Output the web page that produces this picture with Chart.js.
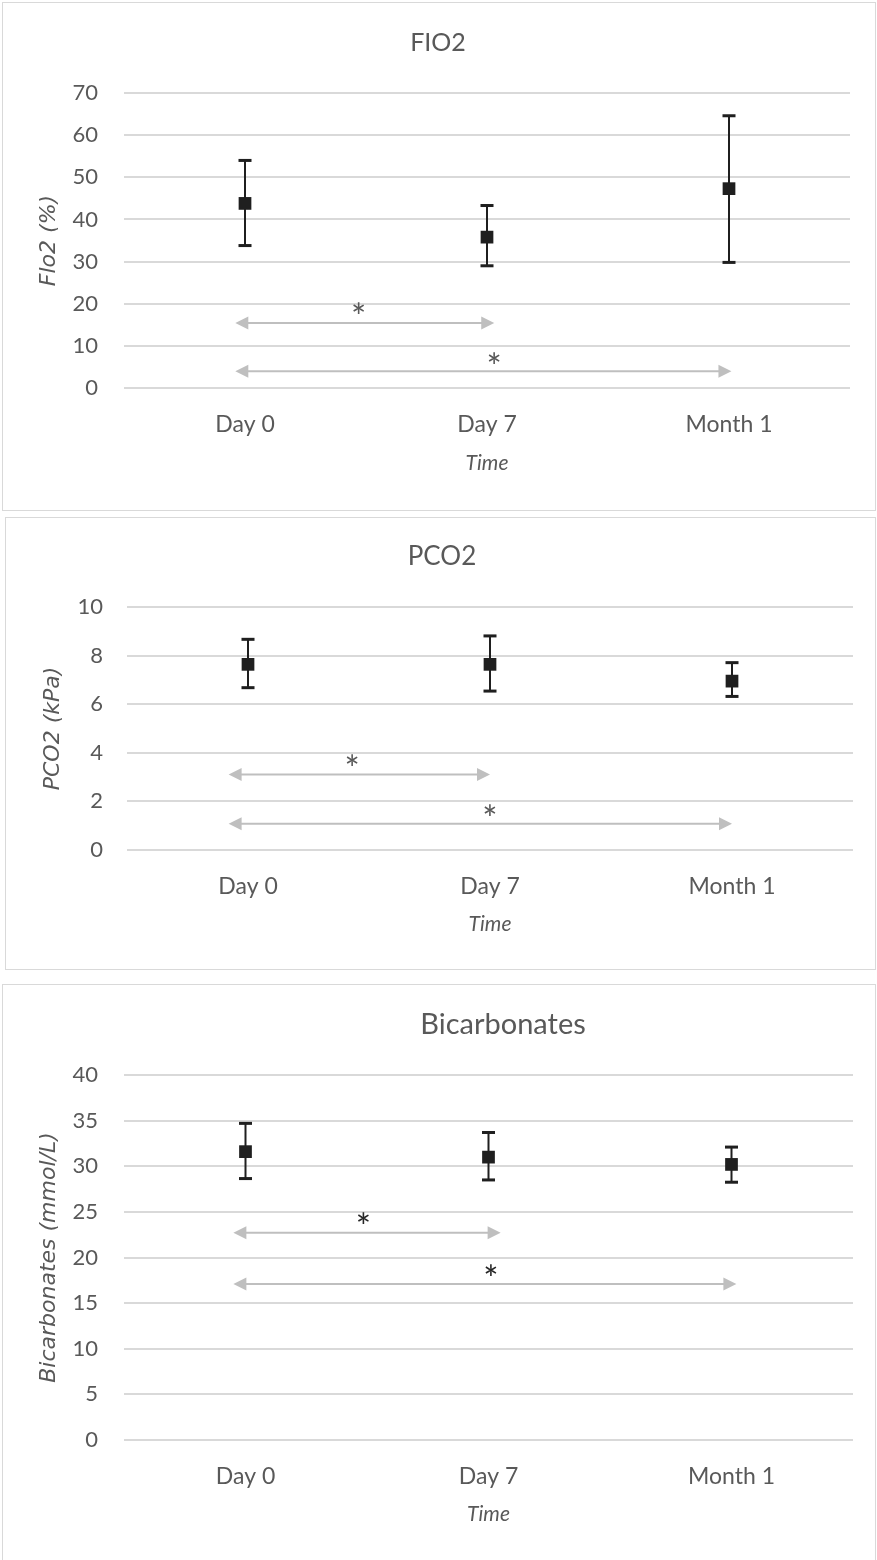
<!DOCTYPE html>
<html>
<head>
<meta charset="utf-8">
<title>FIO2, PCO2, Bicarbonates</title>
<script src="https://cdn.jsdelivr.net/npm/chart.js@4.4.1/dist/chart.umd.min.js"></script>
<style>
  html, body { margin: 0; padding: 0; background: #fff; overflow: hidden; }
  body { position: relative; width: 877px; height: 1560px; }
  .panel { position: absolute; border: 1px solid #d9d9d9; background: #fff; }
  .panel canvas { display: block; }
  #p1 { left: 2px; top: 2px; }
  #p2 { left: 5px; top: 517px; }
  #p3 { left: 2px; top: 984px; }
</style>
</head>
<body>
<div class="panel" id="p1"><canvas id="fio2Chart" width="872" height="507"></canvas></div>
<div class="panel" id="p2"><canvas id="pco2Chart" width="869" height="451"></canvas></div>
<div class="panel" id="p3"><canvas id="bicarbChart" width="872" height="588"></canvas></div>
<script>
const timeLabels = ['Day 0', 'Day 7', 'Month 1'];

// FIO2 (%) - mean and error bar ends
const fio2Mean = [43.8, 35.8, 47.3];
const fio2Upper = [54.0, 43.3, 64.6];
const fio2Lower = [33.8, 29.0, 29.8];
const fio2Ticks = [0, 10, 20, 30, 40, 50, 60, 70];
// significance arrows (x in category units, y in axis units)
const fio2ArrowFrom = [-0.04, -0.04];
const fio2ArrowTo = [1.03, 2.01];
const fio2ArrowY = [15.4, 3.96];
const fio2StarX = [0.47, 1.03];
const fio2StarY = [18.9, 7.05];

// PCO2 (kPa)
const pco2Mean = [7.64, 7.64, 6.95];
const pco2Upper = [8.67, 8.81, 7.71];
const pco2Lower = [6.68, 6.54, 6.32];
const pco2Ticks = [0, 2, 4, 6, 8, 10];
const pco2ArrowFrom = [-0.08, -0.08];
const pco2ArrowTo = [1.0, 2.0];
const pco2ArrowY = [3.11, 1.08];
const pco2StarX = [0.43, 1.0];
const pco2StarY = [3.71, 1.63];

// Bicarbonates (mmol/L)
const bicarbMean = [31.6, 31.0, 30.2];
const bicarbUpper = [34.7, 33.7, 32.1];
const bicarbLower = [28.65, 28.5, 28.25];
const bicarbTicks = [0, 5, 10, 15, 20, 25, 30, 35, 40];
const bicarbArrowFrom = [-0.05, -0.05];
const bicarbArrowTo = [1.05, 2.02];
const bicarbArrowY = [22.7, 17.1];
const bicarbStarX = [0.485, 1.01];
const bicarbStarY = [24.3, 18.6];

const GREY_TEXT = '#595959';
const MARK = '#1f1f1f';

// chart title drawn by hand: the Excel title is not centred on the canvas
function titlePlugin(text, size, cx, cy) {
  return {
    id: 'panelTitle',
    beforeDraw(chart) {
      const ctx = chart.ctx;
      ctx.save();
      ctx.font = size + 'px Lato';
      ctx.fillStyle = GREY_TEXT;
      ctx.textAlign = 'center';
      ctx.textBaseline = 'middle';
      ctx.fillText(text, cx, cy);
      ctx.restore();
    }
  };
}

// whiskers + caps, drawn under the square markers
function errorBarPlugin(upper, lower) {
  return {
    id: 'errorBars',
    beforeDatasetsDraw(chart) {
      const { ctx, scales: { x, y } } = chart;
      ctx.save();
      ctx.strokeStyle = MARK;
      ctx.fillStyle = MARK;
      ctx.lineWidth = 2;
      upper.forEach((hi, i) => {
        const px = x.getPixelForValue(i);
        const top = y.getPixelForValue(hi);
        const bot = y.getPixelForValue(lower[i]);
        ctx.beginPath();
        ctx.moveTo(px, top);
        ctx.lineTo(px, bot);
        ctx.stroke();
        ctx.fillRect(px - 6.5, top - 1.5, 13, 3);
        ctx.fillRect(px - 6.5, bot - 1.5, 13, 3);
      });
      ctx.restore();
    }
  };
}

// double-headed grey arrows with an asterisk above
function significancePlugin(from, to, ys, starX, starY, starColor) {
  return {
    id: 'significance',
    afterDatasetsDraw(chart) {
      const { ctx, scales: { x, y } } = chart;
      ctx.save();
      ctx.strokeStyle = '#bfbfbf';
      ctx.fillStyle = '#bfbfbf';
      ctx.lineWidth = 2;
      const head = 13, half = 6.5;
      ys.forEach((v, i) => {
        const x1 = x.getPixelForValue(from[i]);
        const x2 = x.getPixelForValue(to[i]);
        const py = y.getPixelForValue(v);
        ctx.beginPath();
        ctx.moveTo(x1 + head - 1, py);
        ctx.lineTo(x2 - head + 1, py);
        ctx.stroke();
        ctx.beginPath();
        ctx.moveTo(x1, py);
        ctx.lineTo(x1 + head, py - half);
        ctx.lineTo(x1 + head, py + half);
        ctx.closePath();
        ctx.fill();
        ctx.beginPath();
        ctx.moveTo(x2, py);
        ctx.lineTo(x2 - head, py - half);
        ctx.lineTo(x2 - head, py + half);
        ctx.closePath();
        ctx.fill();
      });
      ctx.font = '36px Lato';
      ctx.fillStyle = starColor;
      ctx.textAlign = 'center';
      ctx.textBaseline = 'alphabetic';
      const m = ctx.measureText('*');
      const dy = (m.actualBoundingBoxAscent - m.actualBoundingBoxDescent) / 2;
      starX.forEach((sx, i) => {
        ctx.fillText('*', x.getPixelForValue(sx), y.getPixelForValue(starY[i]) + dy);
      });
      ctx.restore();
    }
  };
}

function buildChart(canvasId, c) {
  return new Chart(document.getElementById(canvasId), {
    type: 'line',
    data: {
      labels: timeLabels,
      datasets: [{
        data: c.mean,
        showLine: false,
        pointStyle: 'rect',
        pointRadius: 9,
        pointHoverRadius: 9,
        pointBackgroundColor: MARK,
        pointBorderWidth: 0
      }]
    },
    options: {
      responsive: false,
      animation: false,
      events: [],
      layout: { padding: { left: 0, top: c.padTop, right: c.padRight, bottom: c.padBottom } },
      plugins: {
        legend: { display: false },
        tooltip: { enabled: false },
        title: { display: false }
      },
      scales: {
        x: {
          offset: true,
          grid: { display: false },
          border: { display: false },
          ticks: { color: GREY_TEXT, font: { family: 'Lato', size: 23 }, padding: c.xTickPad },
          title: {
            display: true,
            text: 'Time',
            color: GREY_TEXT,
            font: { family: 'Lato', size: 21, style: 'italic' },
            padding: { top: 0, bottom: 10 }
          },
          afterFit: s => { s.height = c.xHeight; }
        },
        y: {
          min: c.ticks[0],
          max: c.ticks[c.ticks.length - 1],
          afterBuildTicks: s => { s.ticks = c.ticks.map(v => ({ value: v })); },
          grid: { color: '#d9d9d9', lineWidth: 2, drawTicks: false },
          border: { display: false },
          ticks: { color: GREY_TEXT, font: { family: 'Lato', size: 22 }, padding: c.yTickPad },
          title: {
            display: true,
            text: c.yTitle,
            color: GREY_TEXT,
            font: { family: 'DejaVu Sans', size: 22, style: 'italic' },
            padding: { top: c.yTitlePad, bottom: 0 }
          },
          afterFit: s => { s.width = c.yWidth; }
        }
      }
    },
    plugins: [
      titlePlugin(c.title, c.titleSize, c.titleX, c.titleY),
      errorBarPlugin(c.upper, c.lower),
      significancePlugin(c.arrowFrom, c.arrowTo, c.arrowY, c.starX, c.starY, c.starColor)
    ]
  });
}

buildChart('fio2Chart', {
  title: 'FIO2', titleSize: 25, titleX: 435, titleY: 40, yTitle: 'Flo2 (%)', ticks: fio2Ticks,
  mean: fio2Mean, upper: fio2Upper, lower: fio2Lower,
  arrowFrom: fio2ArrowFrom, arrowTo: fio2ArrowTo, arrowY: fio2ArrowY,
  starX: fio2StarX, starY: fio2StarY, starColor: '#595959',
  padTop: 90, padRight: 25, padBottom: 24,
  xTickPad: 15, xHeight: 98, yWidth: 121, yTickPad: 26, yTitlePad: 33
});

buildChart('pco2Chart', {
  title: 'PCO2', titleSize: 26, titleX: 436, titleY: 39, yTitle: 'PCO2 (kPa)', ticks: pco2Ticks,
  mean: pco2Mean, upper: pco2Upper, lower: pco2Lower,
  arrowFrom: pco2ArrowFrom, arrowTo: pco2ArrowTo, arrowY: pco2ArrowY,
  starX: pco2StarX, starY: pco2StarY, starColor: '#595959',
  padTop: 89, padRight: 22, padBottom: 22,
  xTickPad: 15, xHeight: 97, yWidth: 121, yTickPad: 24, yTitlePad: 34
});

buildChart('bicarbChart', {
  title: 'Bicarbonates', titleSize: 29, titleX: 500, titleY: 40, yTitle: 'Bicarbonates (mmol/L)', ticks: bicarbTicks,
  mean: bicarbMean, upper: bicarbUpper, lower: bicarbLower,
  arrowFrom: bicarbArrowFrom, arrowTo: bicarbArrowTo, arrowY: bicarbArrowY,
  starX: bicarbStarX, starY: bicarbStarY, starColor: '#262626',
  padTop: 90, padRight: 22, padBottom: 36,
  xTickPad: 15, xHeight: 97, yWidth: 121, yTickPad: 26, yTitlePad: 33
});
</script>
</body>
</html>
